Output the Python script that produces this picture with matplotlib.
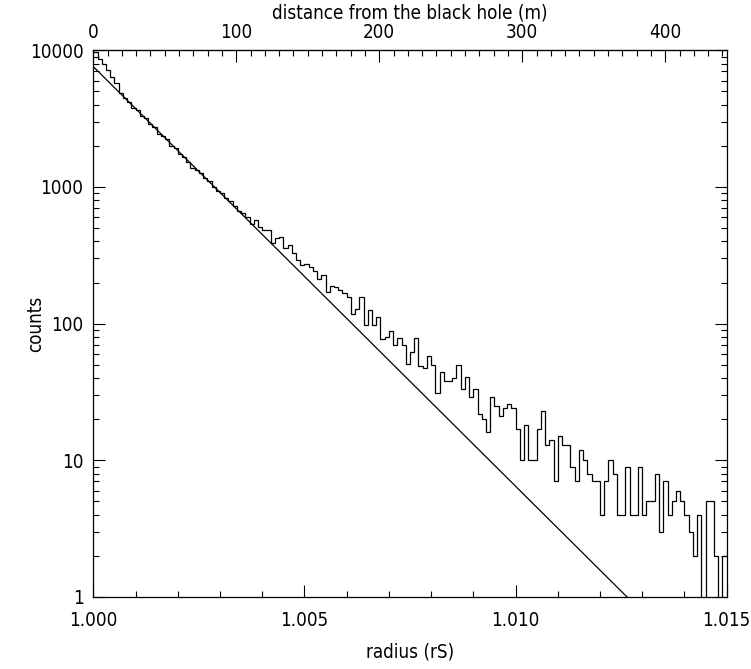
import numpy as np
import matplotlib
matplotlib.use("Agg")
import matplotlib.pyplot as plt
from matplotlib import font_manager
from matplotlib.ticker import FixedLocator, MultipleLocator, LogLocator, NullFormatter, FuncFormatter

# ---------------- data ----------------
r_start = 1.000
bin_width = 0.0001
n_bins = 150

counts = [
    9700, 8600, 7900, 7200, 6400, 5800,
    4900, 4450, 4200, 3780, 3650, 3330, 3200, 2870, 2750, 2450, 2370, 2250, 2010, 1920, 1740, 1660,
    1514, 1368, 1330, 1257, 1169, 1110, 993, 938, 900, 826, 793, 725, 666, 648, 599, 535, 573, 512, 484, 484, 387, 421,
    432, 356, 376, 327, 292, 268, 272, 258, 244, 211, 227, 171, 188, 184, 176, 168, 156, 118, 129, 156, 97, 126,
    97, 112, 77, 80, 89, 70, 79, 70, 51, 62, 78, 49, 47, 58, 50, 31, 44, 38, 38, 40, 50, 33, 41, 29,
    33, 22, 20, 16, 29, 25, 21, 24, 26, 24, 17, 10, 18, 10, 10, 17, 23, 13, 14, 7, 15, 13,
    13, 9, 7, 12, 10, 8, 7, 7, 4, 7, 10, 8, 4, 4, 9, 4, 4, 9, 4, 5, 5, 8, 3,
    7, 4, 5, 6, 5, 4, 3, 2, 4, 0, 5, 5, 2, 0, 2,
]
assert len(counts) == n_bins

# model line (straight in log space)
line_r = [1.000, 1.01264]
line_counts = [7600, 1.0]

# top axis conversion: Schwarzschild radius in metres
r_s_m = 29530.0

y_ticks = [1, 10, 100, 1000, 10000]
y_tick_labels = ["1", "10", "100", "1000", "10000"]
x_ticks = [1.000, 1.005, 1.010, 1.015]
top_ticks = [0, 100, 200, 300, 400]

# ---------------- font ----------------
condensed = any(f.name == 'DejaVu Sans' and f.stretch in ('condensed', 'semi-condensed', 400)
                for f in font_manager.fontManager.ttflist)
plt.rcParams['font.family'] = ['DejaVu Sans']
if condensed:
    plt.rcParams['font.stretch'] = 'condensed'
    fs = 13.5
else:
    fs = 12.5

fig = plt.figure(figsize=(7.51, 6.69), dpi=100)
ax = fig.add_axes([93.3 / 751, 72 / 669, 633.4 / 751, 546.7 / 669])

edges = r_start + bin_width * np.arange(n_bins + 1)
vals = np.array(counts, dtype=float)
draw_vals = np.where(vals > 0, vals, 1e-3)
ax.stairs(draw_vals, edges, baseline=None, color='black', lw=0.9)
ax.plot(line_r, line_counts, color='black', lw=0.9)

ax.set_yscale('log')
ax.set_xlim(1.000, 1.015)
ax.set_ylim(1, 10000)

ax.xaxis.set_major_locator(FixedLocator(x_ticks))
ax.xaxis.set_minor_locator(MultipleLocator(0.001))
ax.xaxis.set_major_formatter(FuncFormatter(lambda v, p: f"{v:.3f}"))
ax.yaxis.set_major_locator(FixedLocator(y_ticks))
ax.yaxis.set_major_formatter(FuncFormatter(lambda v, p: y_tick_labels[y_ticks.index(int(round(v)))] if int(round(v)) in y_ticks else ""))
ax.yaxis.set_minor_locator(LogLocator(base=10, subs=np.arange(2, 10)))
ax.yaxis.set_minor_formatter(NullFormatter())

ax.tick_params(axis='both', which='both', direction='in', colors='black', labelsize=fs)
ax.tick_params(axis='x', which='both', top=False, bottom=True, pad=10)
ax.tick_params(axis='y', which='both', left=True, right=True, labelright=False, pad=7)
ax.tick_params(which='major', length=8.5, width=0.8)
ax.tick_params(which='minor', length=4.3, width=0.8)
for s in ax.spines.values():
    s.set_linewidth(0.9)

ax.set_xlabel("radius (rS)", fontsize=fs)
ax.xaxis.set_label_coords(0.5, -0.083)
ax.set_ylabel("counts", fontsize=fs)
ax.yaxis.set_label_coords(-0.076, 0.5)

sec = ax.secondary_xaxis('top', functions=(lambda r: (r - 1.0) * r_s_m,
                                           lambda d: d / r_s_m + 1.0))
sec.xaxis.set_major_locator(FixedLocator(top_ticks))
sec.xaxis.set_minor_locator(MultipleLocator(10))
sec.tick_params(axis='x', which='both', direction='in', labelsize=fs, pad=6)
sec.tick_params(which='major', length=8.5, width=0.8)
sec.tick_params(which='minor', length=4.3, width=0.8)
sec.set_xlabel("distance from the black hole (m)", fontsize=fs, labelpad=3)

fig.savefig("out.png", dpi=100)
